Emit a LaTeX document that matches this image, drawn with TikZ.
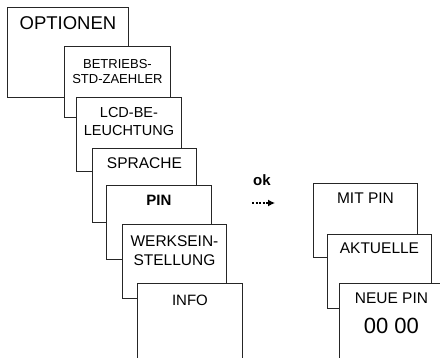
\documentclass[tikz,border=0pt]{standalone}
\usepackage{fontspec}
\setmainfont{Liberation Sans}
\usetikzlibrary{arrows.meta}
\tikzset{
  card/.style   = {draw=black!85, line width=0.9pt, fill=white, anchor=north west,
                   inner sep=0pt, minimum width=105pt, minimum height=74pt},
  tall/.style   = {card, minimum height=90pt},
  lbl/.style    = {anchor=north, inner sep=0pt, align=center,
                   font=\fontsize{15.5pt}{19pt}\selectfont},
  small/.style  = {lbl, font=\fontsize{13pt}{15pt}\selectfont},
  mid/.style    = {lbl, font=\fontsize{14.5pt}{18pt}\selectfont},
  big/.style    = {lbl, font=\fontsize{18.5pt}{22pt}\selectfont},
  code/.style   = {lbl, font=\fontsize{22pt}{26pt}\selectfont},
  go/.style     = {-{Latex[length=7pt,width=7pt]}, line width=1.2pt,
                   dash pattern=on 2.2pt off 1.3pt},
}

\begin{document}
\begin{tikzpicture}[x=1pt, y=-1pt]
\useasboundingbox (0,0) rectangle (440,357);
\clip (0,0) rectangle (440,357);

% =========================================================================
% Menue OPTIONEN
% =========================================================================
\node[card, minimum width=121pt, minimum height=90pt] (opt) at (7,7) {};
\node[big] (topt) at ([yshift=-9pt]opt.north) {OPTIONEN};

\node[card, minimum width=106pt, minimum height=71pt] (betr) at (64,46) {};
\node[small] (tbetr) at ([yshift=-13pt]betr.north) {BETRIEBS-\\STD-ZAEHLER};

\node[card] (lcd) at (76,97) {};
\node[mid] (tlcd) at ([yshift=-10pt]lcd.north) {LCD-BE-\\LEUCHTUNG};

\node[card, minimum width=104pt] (spr) at (92,148) {};
\node[lbl] (tspr) at ([yshift=-9pt]spr.north) {SPRACHE};

\node[card] (pin) at (106,185) {};
\node[lbl, font=\fontsize{15pt}{19pt}\selectfont\bfseries] (tpin)
  at ([yshift=-10pt]pin.north) {PIN};

\node[card, minimum width=104pt] (werk) at (122,224) {};
\node[lbl] (twerk) at ([yshift=-11pt]werk.north) {WERKSEIN-\\STELLUNG};

\node[tall] (info) at (137,283) {};
\node[lbl, font=\fontsize{15pt}{19pt}\selectfont] (tinfo)
  at ([yshift=-12pt]info.north) {INFO};

% =========================================================================
% ok
% =========================================================================
\node[anchor=north, inner sep=0pt, font=\fontsize{15pt}{18pt}\selectfont\bfseries]
  (ok) at (262,174) {ok};
\coordinate (okA) at (252,203);
\coordinate (okB) at (275,203);
\draw[go] (okA) -- (okB);

% =========================================================================
% Untermenue PIN
% =========================================================================
\node[card, minimum width=104pt] (mit) at (313,183) {};
\node[lbl] (tmit) at ([yshift=-10pt]mit.north) {MIT PIN};

\node[card, minimum width=104pt] (akt) at (327,234) {};
\node[lbl] (takt) at ([yshift=-9pt]akt.north) {AKTUELLE};

\node[tall, minimum width=104pt] (neu) at (339,283) {};
\node[lbl] (tneu) at ([yshift=-10pt]neu.north) {NEUE PIN};
\node[code] (tcode) at ([yshift=-35pt]neu.north) {00 00};

\end{tikzpicture}
\end{document}
